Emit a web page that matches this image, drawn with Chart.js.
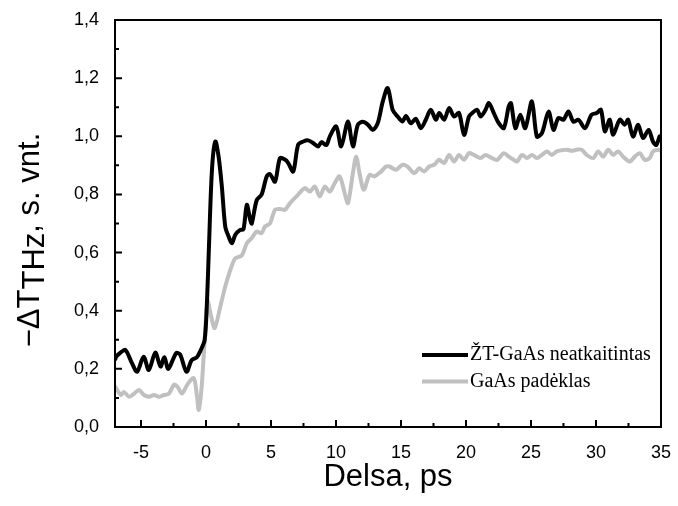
<!DOCTYPE html>
<html>
<head>
<meta charset="utf-8">
<script src="https://cdn.jsdelivr.net/npm/chart.js@4.4.0/dist/chart.umd.min.js"></script>
<style>
  html, body { margin: 0; padding: 0; background: #fff; }
  #wrap { width: 678px; height: 506px; }
</style>
</head>
<body>
<div id="wrap"><canvas id="thzChart"></canvas></div>
<script>
// ZT-GaAs neatkaitintas (juoda kreive)
const delayLt = [
  -7, -6.9, -6.6, -6.2, -5.7, -5.3, -4.8, -4.4, -3.9, -3.5,
  -3.2, -2.9, -2.3, -2.0, -1.5, -1.1, -0.7, -0.4, -0.1, 0.08,
  0.21, 0.46, 0.72, 0.97, 1.22, 1.48, 1.74, 1.99, 2.25, 2.63,
  2.88, 3.14, 3.40, 3.52, 3.9, 4.28, 4.67, 4.92, 5.31, 5.69,
  6.07, 6.33, 6.71, 7.09, 7.48, 7.86, 8.24, 8.62, 8.88, 9.26,
  9.52, 10.02, 10.4, 10.92, 11.3, 11.68, 12.06, 12.45, 12.83, 13.21,
  13.6, 13.98, 14.36, 14.74, 15.12, 15.38, 15.76, 16.14, 16.53, 16.91,
  17.29, 17.68, 17.94, 18.32, 18.7, 19.08, 19.46, 19.85, 20.23, 20.48,
  20.86, 21.12, 21.5, 21.76, 22.14, 22.52, 22.91, 23.29, 23.46, 23.8,
  24.18, 24.56, 25.07, 25.45, 25.84, 26.35, 26.73, 27.11, 27.5, 27.88,
  28.26, 28.65, 29.15, 29.66, 30.05, 30.38, 30.68, 31.06, 31.32, 31.83,
  32.21, 32.47, 32.85, 33.24, 33.62, 34.05, 34.38, 34.64, 34.9, 35
];
const signalLt = [
  0.23, 0.242, 0.255, 0.265, 0.22, 0.19, 0.242, 0.196, 0.256, 0.208,
  0.24, 0.2, 0.254, 0.25, 0.19, 0.23, 0.24, 0.265, 0.3, 0.437,
  0.598, 0.885, 0.982, 0.93, 0.827, 0.69, 0.655, 0.632, 0.661, 0.678,
  0.68, 0.764, 0.713, 0.70, 0.78, 0.80, 0.862, 0.87, 0.844, 0.925,
  0.92, 0.908, 0.879, 0.971, 0.982, 0.986, 0.977, 0.965, 0.98, 0.97,
  0.999, 1.034, 0.965, 1.051, 0.965, 1.04, 1.05, 1.04, 1.022, 1.045,
  1.12, 1.166, 1.091, 1.068, 1.051, 1.07, 1.045, 1.06, 1.028, 1.057,
  1.091, 1.057, 1.08, 1.057, 1.097, 1.068, 1.08, 1.005, 1.068, 1.08,
  1.091, 1.068, 1.091, 1.114, 1.08, 1.045, 1.028, 1.103, 1.114, 1.028,
  1.074, 1.028, 1.12, 0.999, 1.011, 1.085, 1.022, 1.063, 1.057, 1.085,
  1.05, 1.057, 1.028, 1.074, 1.08, 1.091, 1.017, 1.057, 1.005, 1.057,
  1.04, 1.057, 0.999, 1.04, 0.994, 1.022, 0.982, 0.97, 1.0, 1.0
];

// GaAs padeklas (pilka kreive)
const delaySub = [
  -7, -6.55, -6.3, -5.91, -5.53, -5.15, -4.77, -4.38, -4.0, -3.62,
  -3.24, -2.85, -2.47, -2.2, -1.84, -1.45, -0.94, -0.69, -0.56, -0.35,
  -0.18, 0.13, 0.4, 0.67, 1.1, 1.48, 1.87, 2.25, 2.75, 3.14,
  3.52, 3.9, 4.28, 4.54, 4.92, 5.31, 5.69, 6.07, 6.46, 7.0,
  7.6, 7.99, 8.37, 8.75, 9.14, 9.52, 9.9, 10.28, 10.67, 10.92,
  11.3, 11.55, 11.81, 12.14, 12.58, 12.96, 13.47, 13.85, 14.11, 14.61,
  15.12, 15.5, 16.02, 16.4, 16.78, 17.17, 17.55, 17.93, 18.32, 18.7,
  19.08, 19.46, 19.85, 20.23, 20.61, 21.12, 21.5, 22.0, 22.4, 22.91,
  23.29, 23.67, 23.93, 24.31, 24.69, 25.07, 25.45, 25.84, 26.22, 26.6,
  26.98, 27.37, 27.75, 28.13, 28.52, 28.9, 29.28, 29.79, 30.17, 30.56,
  30.94, 31.32, 31.7, 32.09, 32.6, 32.98, 33.36, 33.75, 34.13, 34.39,
  34.77, 35
];
const signalSub = [
  0.14, 0.11, 0.12, 0.104, 0.115, 0.127, 0.11, 0.104, 0.11, 0.104,
  0.11, 0.115, 0.145, 0.139, 0.115, 0.145, 0.168, 0.104, 0.059, 0.13,
  0.242, 0.431, 0.38, 0.34, 0.414, 0.483, 0.54, 0.58, 0.59, 0.632,
  0.65, 0.672, 0.667, 0.69, 0.70, 0.747, 0.75, 0.747, 0.77, 0.795,
  0.822, 0.81, 0.827, 0.793, 0.827, 0.81, 0.839, 0.862, 0.804, 0.77,
  0.873, 0.93, 0.873, 0.816, 0.867, 0.862, 0.879, 0.896, 0.896, 0.885,
  0.902, 0.896, 0.873, 0.89, 0.879, 0.896, 0.902, 0.919, 0.908, 0.936,
  0.913, 0.936, 0.919, 0.942, 0.936, 0.925, 0.936, 0.925, 0.919, 0.942,
  0.93, 0.919, 0.913, 0.936, 0.925, 0.936, 0.925, 0.936, 0.948, 0.936,
  0.948, 0.952, 0.954, 0.95, 0.954, 0.954, 0.936, 0.925, 0.948, 0.93,
  0.954, 0.936, 0.948, 0.93, 0.913, 0.93, 0.942, 0.919, 0.925, 0.948,
  0.954, 0.95
];

const seriesNames = ["ŽT-GaAs neatkaitintas", "GaAs padėklas"];
const seriesColors = ["#000000", "#c0c0c0"];
const xTicks = [-5, 0, 5, 10, 15, 20, 25, 30, 35];
const yTicks = [0, 0.2, 0.4, 0.6, 0.8, 1.0, 1.2, 1.4];

const toPoints = (xs, ys) => xs.map((v, i) => ({ x: v, y: ys[i] }));
const midpoints = arr => arr.slice(1).map((v, i) => (v + arr[i]) / 2);

// Remelis, vidines padalos, pavadinimai ir legenda
const framePlugin = {
  id: "frame",
  afterDraw(chart) {
    const { ctx, chartArea: a, scales } = chart;
    const x = scales.x, y = scales.y;
    ctx.save();
    ctx.strokeStyle = "#000";
    ctx.lineWidth = 2;
    ctx.strokeRect(a.left, a.top, a.right - a.left, a.bottom - a.top);

    ctx.beginPath();
    xTicks.forEach(v => {
      const px = x.getPixelForValue(v);
      ctx.moveTo(px, a.bottom); ctx.lineTo(px, a.bottom - 7);
    });
    midpoints(xTicks).forEach(v => {
      const px = x.getPixelForValue(v);
      ctx.moveTo(px, a.bottom); ctx.lineTo(px, a.bottom - 4);
    });
    yTicks.forEach(v => {
      const py = y.getPixelForValue(v);
      ctx.moveTo(a.left, py); ctx.lineTo(a.left + 7, py);
    });
    midpoints(yTicks).forEach(v => {
      const py = y.getPixelForValue(v);
      ctx.moveTo(a.left, py); ctx.lineTo(a.left + 4, py);
    });
    ctx.stroke();

    // x asies pavadinimas
    ctx.fillStyle = "#000";
    ctx.font = "31px 'Liberation Sans', Arial, sans-serif";
    ctx.textAlign = "center";
    ctx.textBaseline = "middle";
    ctx.fillText("Delsa, ps", (a.left + a.right) / 2, 477);

    // y asies pavadinimas su indeksu
    ctx.font = "31px 'Liberation Sans', Arial, sans-serif";
    const p1 = "\u2212\u0394T", p2 = "THz", p3 = ", s. vnt.";
    const w1 = ctx.measureText(p1).width;
    const w2 = ctx.measureText(p2).width;
    const w3 = ctx.measureText(p3).width;
    const total = w1 + w2 + w3;
    ctx.translate(30, 240);
    ctx.rotate(-Math.PI / 2);
    ctx.textAlign = "left";
    let cx = -total / 2;
    ctx.fillText(p1, cx, 0); cx += w1;
    ctx.fillText(p2, cx, 5); cx += w2;
    ctx.fillText(p3, cx, 0);
    ctx.setTransform(1, 0, 0, 1, 0, 0);

    // legenda
    ctx.font = "20px 'Liberation Serif', 'Times New Roman', serif";
    ctx.textAlign = "left";
    ctx.textBaseline = "middle";
    seriesNames.forEach((name, i) => {
      const ly = 355 + i * 26.5;
      ctx.strokeStyle = seriesColors[i];
      ctx.lineWidth = 4;
      ctx.beginPath();
      ctx.moveTo(422, ly); ctx.lineTo(468, ly);
      ctx.stroke();
      ctx.fillStyle = "#000";
      ctx.fillText(name, 470, ly);
    });
    ctx.restore();
  }
};

const tickFont = { family: "'Liberation Sans', Arial, sans-serif", size: 18 };

new Chart(document.getElementById("thzChart"), {
  type: "line",
  data: {
    datasets: [
      {
        label: seriesNames[0],
        data: toPoints(delayLt, signalLt),
        borderColor: seriesColors[0],
        borderWidth: 4,
        pointRadius: 0,
        tension: 0.3,
        fill: false
      },
      {
        label: seriesNames[1],
        data: toPoints(delaySub, signalSub),
        borderColor: seriesColors[1],
        borderWidth: 4,
        pointRadius: 0,
        tension: 0.3,
        fill: false
      }
    ]
  },
  options: {
    responsive: true,
    maintainAspectRatio: false,
    animation: false,
    layout: { padding: { left: 10, top: 20, right: 13, bottom: 0 } },
    plugins: {
      legend: { display: false },
      tooltip: { enabled: false }
    },
    scales: {
      x: {
        type: "linear",
        min: -7,
        max: 35,
        grid: { display: false },
        border: { display: false },
        afterBuildTicks: s => { s.ticks = xTicks.map(v => ({ value: v })); },
        afterFit: s => { s.height = 79; },
        ticks: {
          color: "#000",
          font: tickFont,
          padding: 7,
          maxRotation: 0,
          callback: v => String(v)
        }
      },
      y: {
        type: "linear",
        min: 0,
        max: 1.4,
        grid: { display: false },
        border: { display: false },
        afterBuildTicks: s => { s.ticks = yTicks.map(v => ({ value: v })); },
        afterFit: s => { s.width = 105; },
        ticks: {
          color: "#000",
          font: tickFont,
          padding: 8,
          callback: v => v.toFixed(1).replace(".", ",")
        }
      }
    }
  },
  plugins: [framePlugin]
});
</script>
</body>
</html>
